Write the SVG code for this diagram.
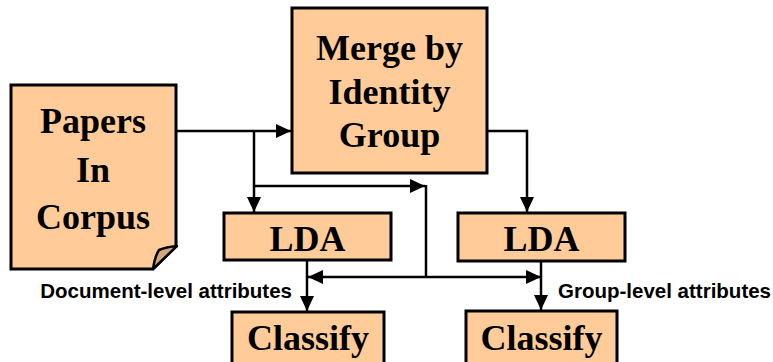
<svg xmlns="http://www.w3.org/2000/svg" width="773" height="362" viewBox="0 0 773 362">
<style>
.box{fill:#FFCC99;stroke:#000;stroke-width:3}
.fold{fill:#D4A57A;stroke:#000;stroke-width:2.5;stroke-linejoin:round}
.c{fill:none;stroke:#000;stroke-width:2.5}
.t{font-family:"Liberation Serif","Times New Roman",serif;font-weight:bold;font-size:36px;fill:#000;text-anchor:middle}
.lbl{font-family:"Liberation Sans",Arial,sans-serif;font-weight:bold;font-size:20.5px;fill:#000}
</style>
<defs>
<marker id="ah" markerUnits="userSpaceOnUse" markerWidth="16" markerHeight="14" refX="15" refY="7" orient="auto">
<path d="M0,0 L15,7 L0,14 Z" fill="#000"/>
</marker>
</defs>
<rect width="773" height="362" fill="#fff"/>
<g id="connectors">
<path class="c" d="M176,131 H291" marker-end="url(#ah)"/>
<path class="c" d="M254,131 V212" marker-end="url(#ah)"/>
<path class="c" d="M254,186 H425" marker-end="url(#ah)"/>
<path class="c" d="M426,185 V277"/>
<path class="c" d="M426,277 H308" marker-end="url(#ah)"/>
<path class="c" d="M426,277 H541" marker-end="url(#ah)"/>
<path class="c" d="M307,260 V311" marker-end="url(#ah)"/>
<path class="c" d="M487,131 H527 V212" marker-end="url(#ah)"/>
<path class="c" d="M541,261 V310" marker-end="url(#ah)"/>
</g>
<g id="papers">
<path class="box" d="M11,85 H176 V246 L153,269 H11 Z"/>
<path class="fold" d="M153,269 Q155,256 159,250 Q166,247 177,246 Z"/>
<text class="t" x="93" y="133">Papers</text>
<text class="t" x="93" y="182">In</text>
<text class="t" x="93" y="229">Corpus</text>
</g>
<g id="merge">
<rect class="box" x="292" y="8" width="195" height="165"/>
<text class="t" x="389.5" y="60">Merge by</text>
<text class="t" x="389.5" y="103.5">Identity</text>
<text class="t" x="389.5" y="147">Group</text>
</g>
<g id="lda1">
<rect class="box" x="224" y="213" width="167" height="47"/>
<text class="t" x="307.5" y="251">LDA</text>
</g>
<g id="lda2">
<rect class="box" x="458" y="213" width="167" height="48"/>
<text class="t" x="541.5" y="251">LDA</text>
</g>
<g id="classify1">
<rect class="box" x="232" y="312" width="152" height="60"/>
<text class="t" x="308" y="350">Classify</text>
</g>
<g id="classify2">
<rect class="box" x="466" y="311" width="151" height="61"/>
<text class="t" x="541.5" y="350">Classify</text>
</g>
<g id="labels">
<text class="lbl" x="292" y="298" text-anchor="end">Document-level attributes</text>
<text class="lbl" x="558" y="298">Group-level attributes</text>
</g>
</svg>
